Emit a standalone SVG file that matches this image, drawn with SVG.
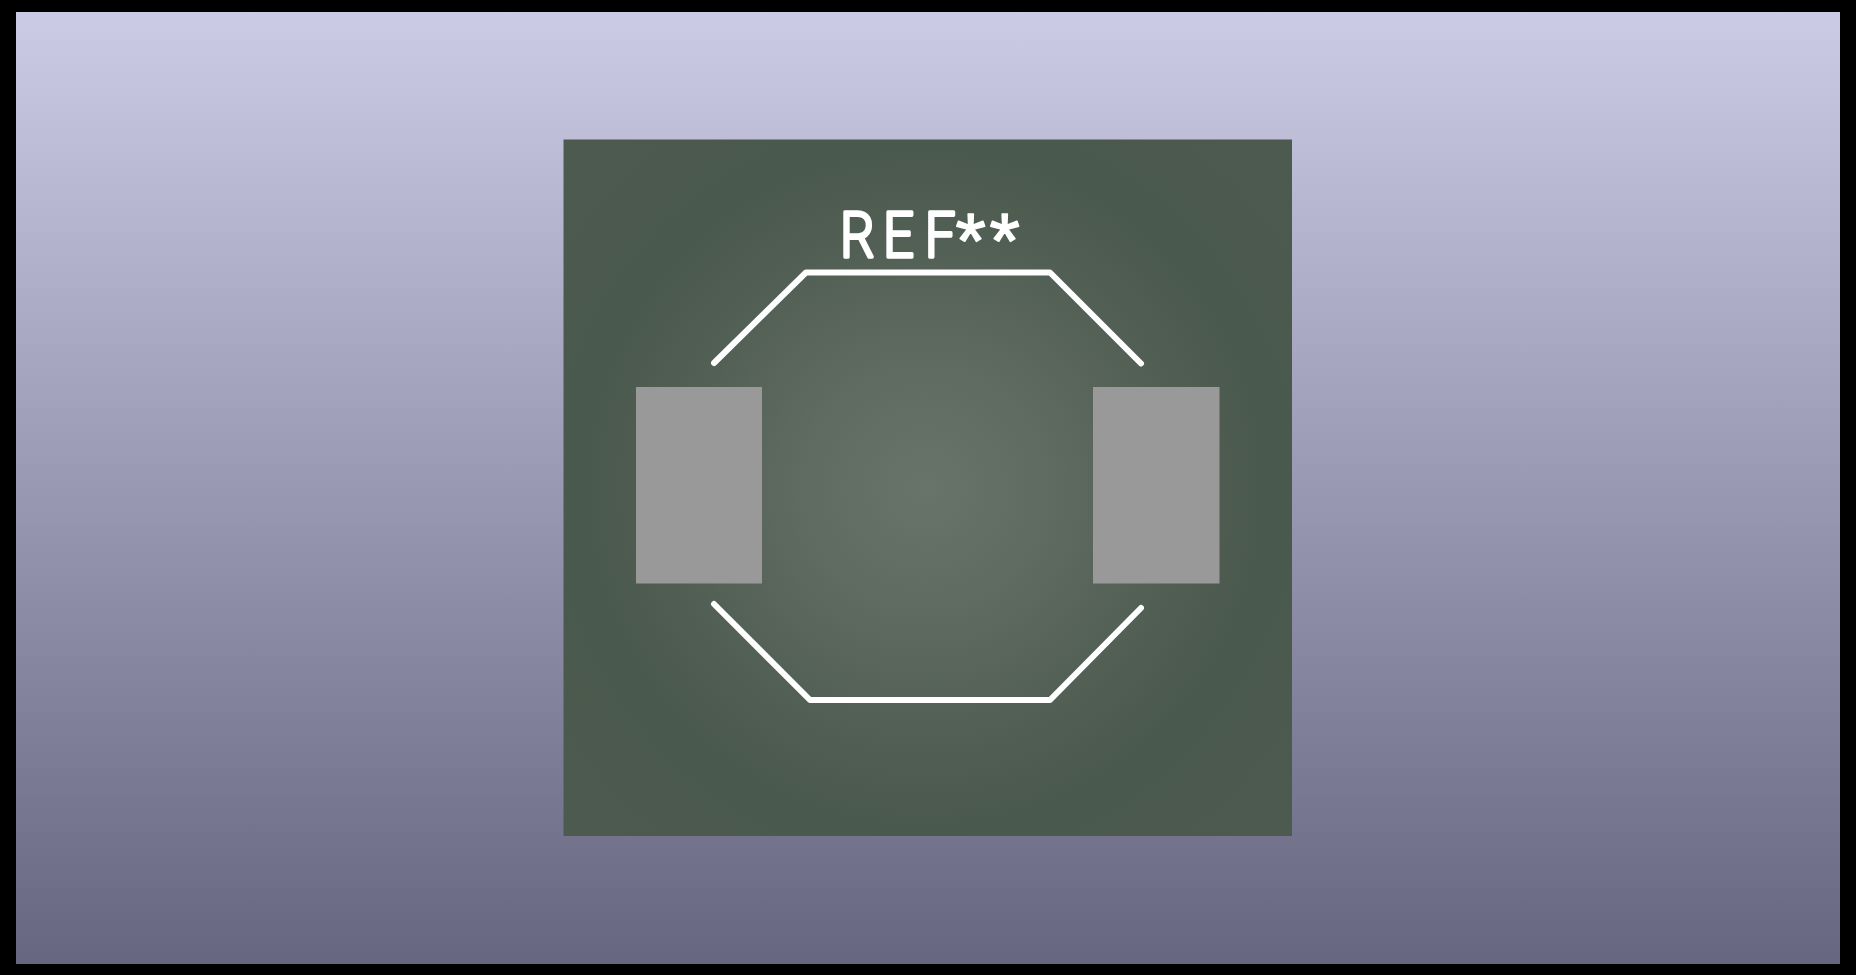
<svg xmlns="http://www.w3.org/2000/svg" width="1856" height="975" viewBox="0 0 1856 975">
  <defs>
    <linearGradient id="sky" x1="0" y1="0" x2="0" y2="1">
      <stop offset="0" stop-color="#cbcbe5"/>
      <stop offset="1" stop-color="#666680"/>
    </linearGradient>
    <radialGradient id="glow" gradientUnits="userSpaceOnUse" cx="925" cy="488" r="500">
      <stop offset="0" stop-color="#68746a"/>
      <stop offset="0.25" stop-color="#5f6b61"/>
      <stop offset="0.5" stop-color="#525f54"/>
      <stop offset="0.68" stop-color="#4a594d"/>
      <stop offset="1" stop-color="#4d5a4f"/>
    </radialGradient>
  </defs>
  <style>
    .pad { fill: #999999; }
    .silk { fill: none; stroke: #ffffff; stroke-width: 6; stroke-linecap: round; stroke-linejoin: round; }
    .ref { fill: #ffffff; stroke: #ffffff; stroke-linejoin: round; stroke-linecap: round; }
    .letters { font-family: Roboto, "Liberation Sans", sans-serif; font-weight: 300; font-size: 62.6px; stroke-width: 3.5px; }
    .stars { font-family: "Liberation Sans", Arial, sans-serif; font-size: 78px; stroke-width: 1.5px; }
  </style>
  <rect width="1856" height="975" fill="#000000"/>
  <rect id="background" x="16" y="12" width="1824" height="952" fill="url(#sky)"/>
  <rect id="board" x="563.5" y="139.5" width="728.5" height="696.5" fill="url(#glow)"/>
  <g id="pad-1"><rect class="pad" x="636" y="387" width="126" height="196.5"/></g>
  <g id="pad-2"><rect class="pad" x="1093" y="387" width="126.500" height="196.5"/></g>
  <g id="outline">
    <polyline class="silk" points="714,363 806,272.500 1050,272.500 1141,363.500"/>
    <polyline class="silk" points="714,604 810,700 1050,700 1141,608"/>
  </g>
  <g id="label">
    <text class="ref letters" transform="translate(840,257.300) scale(0.87,1)" x="0 49.500 97.500">REF</text>
    <text class="ref stars" x="955.500 989.500" y="268">**</text>
  </g>
</svg>
